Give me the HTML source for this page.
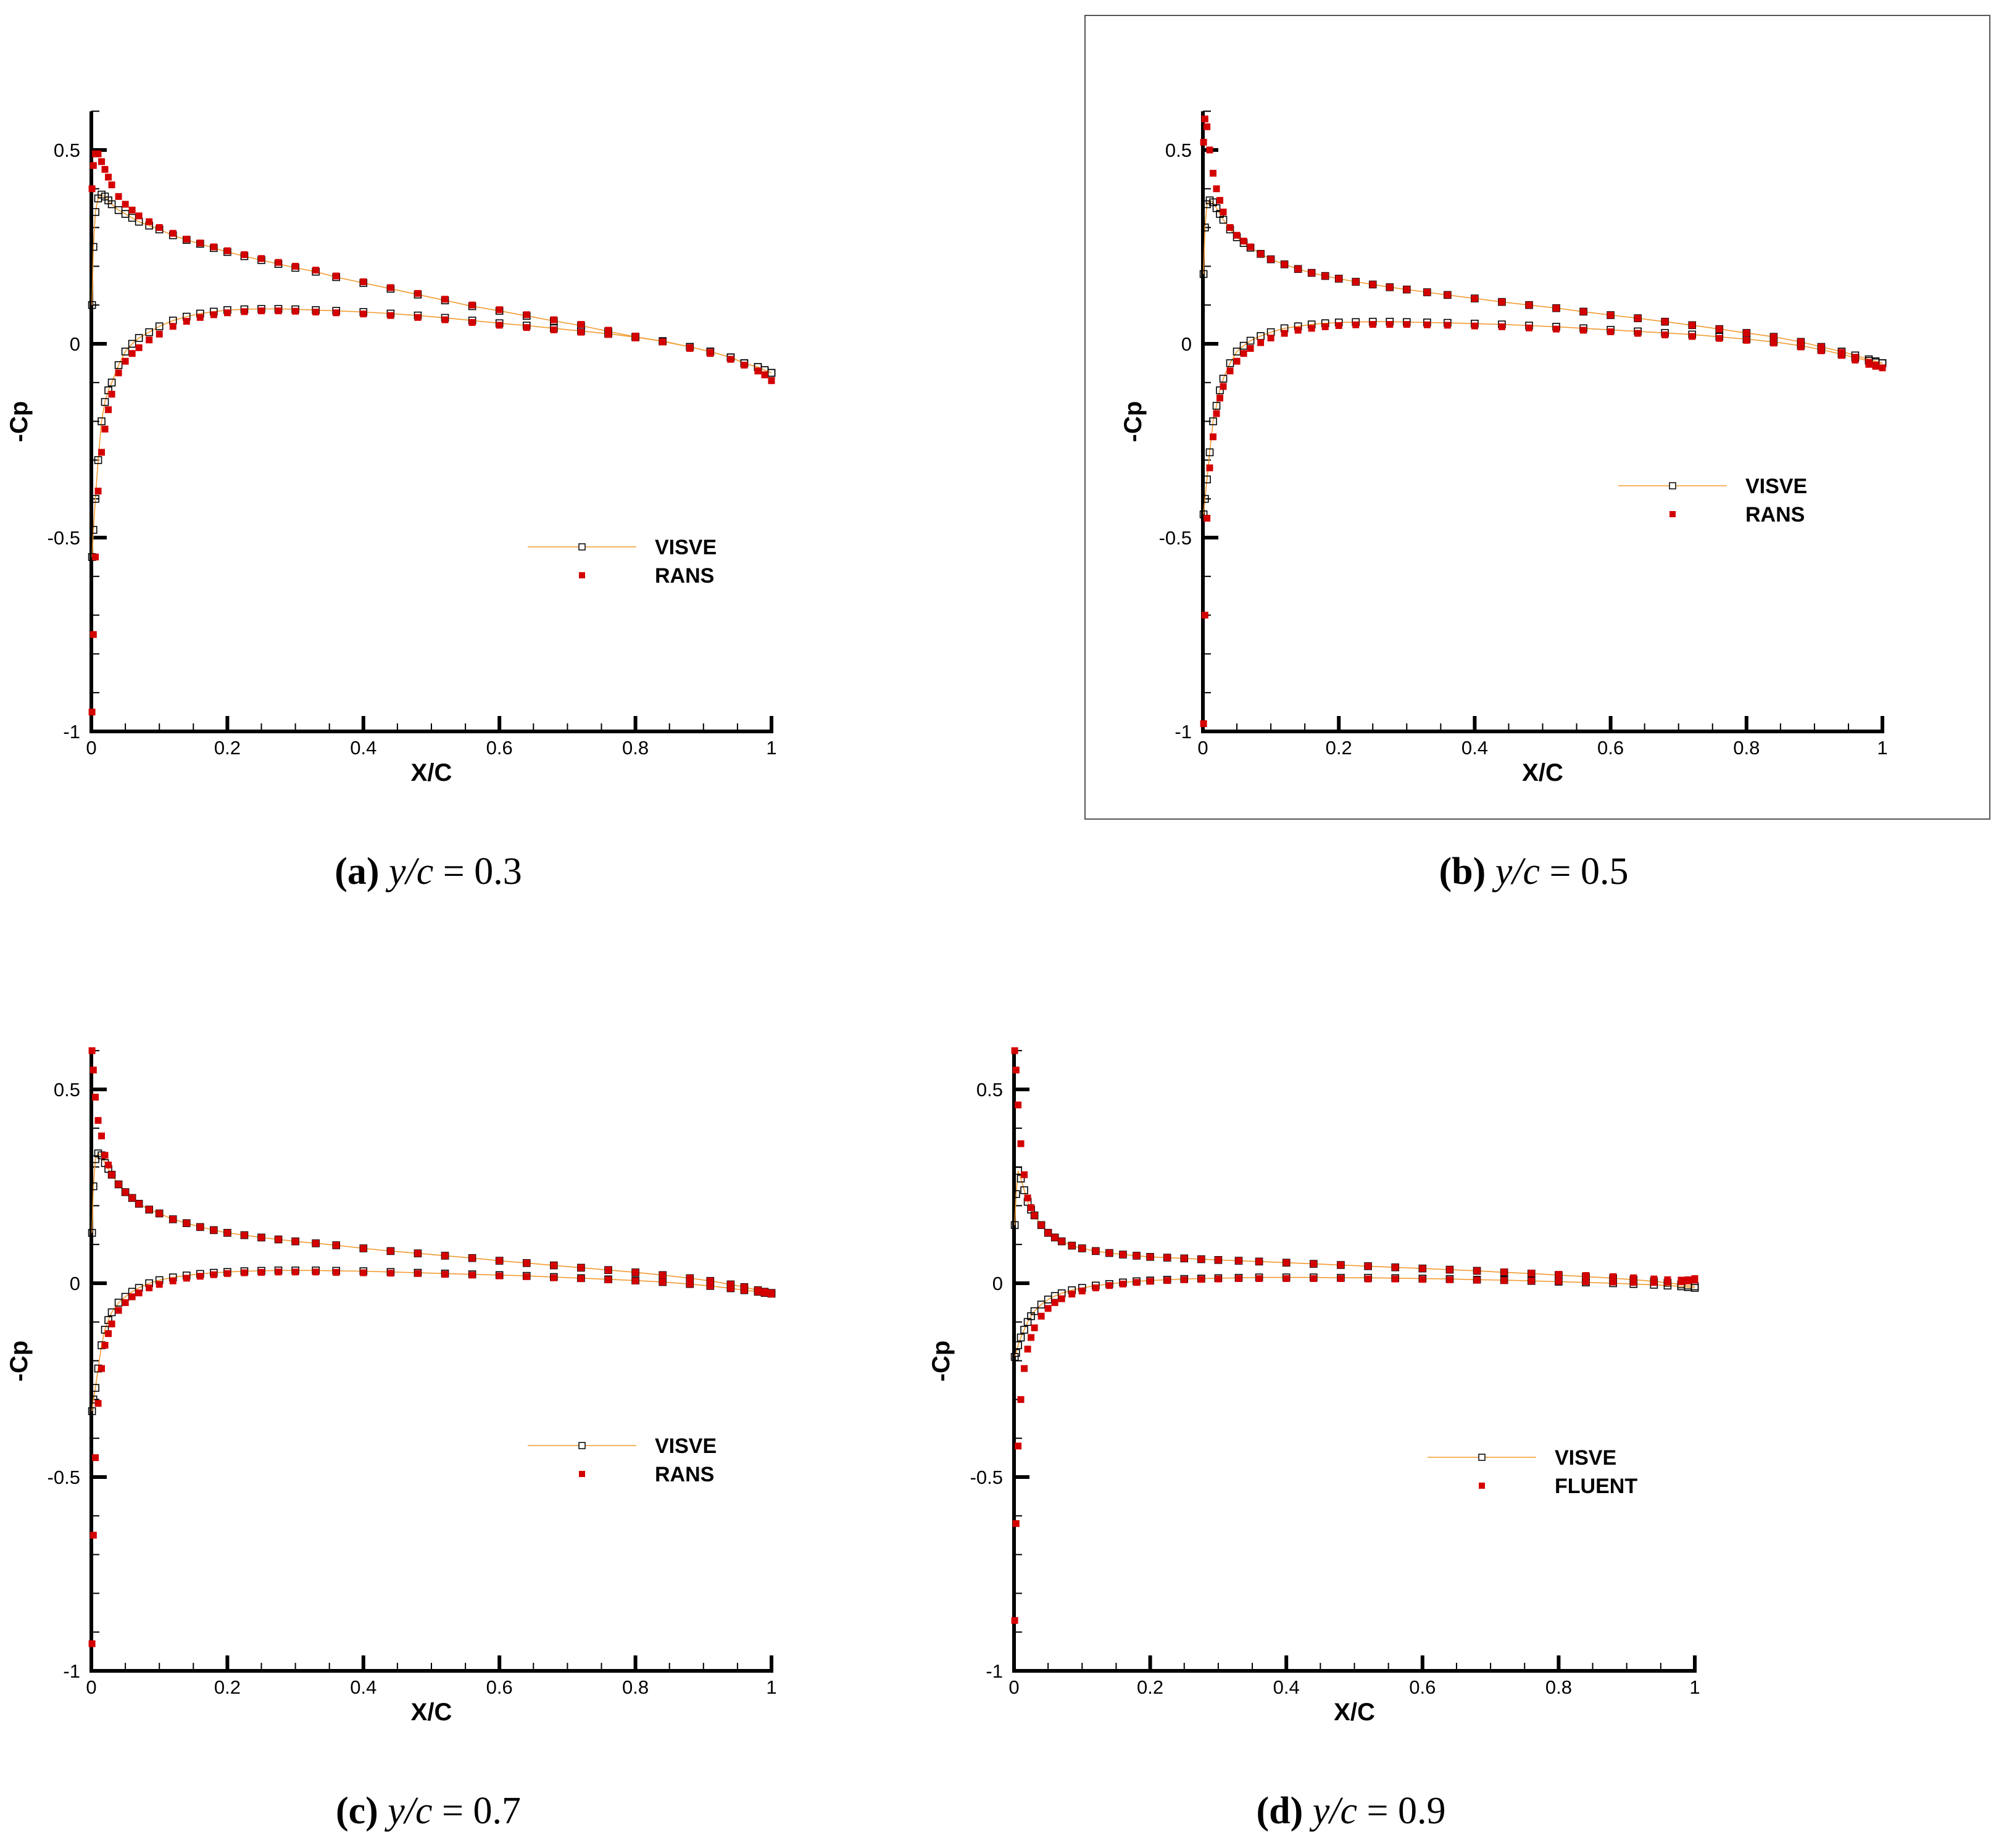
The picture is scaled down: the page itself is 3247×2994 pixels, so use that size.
<!DOCTYPE html>
<html><head><meta charset="utf-8">
<style>
html,body{margin:0;padding:0;background:#fff;}
svg{display:block;}
</style></head>
<body>
<svg id="fig" xmlns="http://www.w3.org/2000/svg" width="3247" height="2994" viewBox="0 0 3247 2994">
<rect x="0" y="0" width="3247" height="2994" fill="#fff"/>
<rect x="1758" y="25" width="1466" height="1302" fill="none" stroke="#555" stroke-width="2"/>
</svg>
<script>
// ---- data ----
const stations = [0.001,0.003,0.006,0.01,0.015,0.02,0.025,0.03,0.04,0.05,0.06,0.07,0.085,0.1,0.12,0.14,0.16,0.18,0.2,0.225,0.25,0.275,0.3,0.33,0.36,0.4,0.44,0.48,0.52,0.56,0.6,0.64,0.68,0.72,0.76,0.8,0.84,0.88,0.91,0.94,0.96,0.98,0.99,1];
const xTicks = [0,0.2,0.4,0.6,0.8,1];
const xTickLabels = ["0","0.2","0.4","0.6","0.8","1"];
const yTicks = [0.5,0,-0.5,-1];
const yTickLabels = ["0.5","0","-0.5","-1"];
const panelNames = ["a","b","c","d"];
const spanValues = ["0.3","0.5","0.7","0.9"];
const refNames = ["RANS","RANS","RANS","FLUENT"];

// panel a
const aVisveUpper = [0.10,0.25,0.34,0.375,0.385,0.38,0.37,0.36,0.345,0.335,0.325,0.315,0.305,0.295,0.28,0.268,0.258,0.247,0.237,0.226,0.216,0.206,0.196,0.186,0.172,0.157,0.142,0.127,0.112,0.097,0.085,0.072,0.059,0.047,0.032,0.018,0.006,-0.008,-0.02,-0.035,-0.05,-0.06,-0.068,-0.075];
const aRansUpper = [0.40,0.46,0.49,0.49,0.47,0.45,0.43,0.41,0.38,0.36,0.345,0.33,0.315,0.30,0.285,0.27,0.26,0.25,0.24,0.23,0.22,0.21,0.20,0.19,0.175,0.16,0.145,0.13,0.115,0.10,0.088,0.075,0.062,0.05,0.035,0.02,0.005,-0.012,-0.025,-0.04,-0.055,-0.07,-0.08,-0.095];
const aVisveLower = [-0.55,-0.48,-0.40,-0.30,-0.20,-0.15,-0.12,-0.10,-0.055,-0.02,0,0.015,0.03,0.045,0.06,0.07,0.078,0.083,0.087,0.089,0.09,0.09,0.089,0.087,0.085,0.082,0.078,0.073,0.067,0.06,0.053,0.047,0.04,0.033,0.026,0.017,0.007,-0.008,-0.02,-0.035,-0.05,-0.06,-0.068,-0.075];
const aRansLower = [-0.95,-0.75,-0.55,-0.38,-0.28,-0.22,-0.17,-0.13,-0.075,-0.045,-0.025,-0.01,0.01,0.025,0.045,0.058,0.068,0.075,0.08,0.083,0.085,0.085,0.084,0.082,0.08,0.077,0.073,0.068,0.062,0.055,0.048,0.042,0.036,0.03,0.024,0.015,0.005,-0.01,-0.022,-0.04,-0.055,-0.07,-0.08,-0.095];
// panel b
const bVisveUpper = [0.18,0.30,0.36,0.37,0.365,0.35,0.335,0.32,0.295,0.275,0.26,0.248,0.232,0.218,0.205,0.193,0.183,0.175,0.168,0.16,0.153,0.146,0.14,0.133,0.126,0.117,0.108,0.1,0.092,0.083,0.074,0.066,0.057,0.048,0.038,0.028,0.018,0.005,-0.008,-0.02,-0.03,-0.04,-0.045,-0.05];
const bRansUpper = [0.52,0.58,0.56,0.50,0.44,0.40,0.37,0.34,0.30,0.28,0.265,0.25,0.232,0.218,0.205,0.193,0.183,0.175,0.168,0.16,0.153,0.146,0.14,0.133,0.126,0.117,0.108,0.1,0.092,0.083,0.074,0.066,0.057,0.048,0.038,0.028,0.018,0.005,-0.008,-0.022,-0.035,-0.048,-0.055,-0.062];
const bVisveLower = [-0.44,-0.40,-0.35,-0.28,-0.20,-0.16,-0.12,-0.09,-0.05,-0.02,-0.005,0.008,0.02,0.03,0.04,0.045,0.05,0.053,0.055,0.056,0.057,0.057,0.056,0.055,0.054,0.052,0.05,0.047,0.044,0.04,0.036,0.032,0.028,0.024,0.018,0.012,0.005,-0.005,-0.015,-0.027,-0.036,-0.044,-0.048,-0.05];
const bRansLower = [-0.98,-0.70,-0.45,-0.32,-0.24,-0.18,-0.14,-0.11,-0.07,-0.045,-0.025,-0.012,0.003,0.015,0.027,0.035,0.04,0.044,0.047,0.049,0.05,0.05,0.05,0.049,0.048,0.046,0.044,0.041,0.038,0.035,0.031,0.027,0.023,0.019,0.014,0.009,0.002,-0.008,-0.018,-0.03,-0.042,-0.053,-0.058,-0.062];
// panel c
const cVisveUpper = [0.13,0.25,0.32,0.335,0.33,0.31,0.295,0.28,0.255,0.235,0.22,0.205,0.19,0.18,0.165,0.155,0.145,0.137,0.13,0.124,0.118,0.113,0.108,0.103,0.098,0.09,0.083,0.077,0.071,0.065,0.058,0.052,0.046,0.04,0.034,0.028,0.021,0.013,0.006,-0.003,-0.01,-0.018,-0.022,-0.025];
const cRansUpper = [0.60,0.55,0.48,0.42,0.38,0.33,0.305,0.28,0.255,0.235,0.22,0.205,0.19,0.18,0.165,0.155,0.145,0.137,0.13,0.124,0.118,0.113,0.108,0.103,0.098,0.09,0.083,0.077,0.071,0.065,0.058,0.052,0.046,0.04,0.034,0.028,0.021,0.013,0.006,-0.003,-0.01,-0.018,-0.022,-0.025];
const cVisveLower = [-0.33,-0.30,-0.27,-0.22,-0.16,-0.12,-0.095,-0.075,-0.05,-0.035,-0.022,-0.012,0,0.008,0.015,0.02,0.024,0.027,0.029,0.031,0.032,0.033,0.033,0.033,0.032,0.031,0.029,0.027,0.025,0.023,0.021,0.019,0.016,0.013,0.01,0.007,0.003,-0.002,-0.007,-0.013,-0.018,-0.022,-0.025,-0.027];
const cRansLower = [-0.93,-0.65,-0.45,-0.31,-0.22,-0.16,-0.13,-0.105,-0.07,-0.05,-0.035,-0.025,-0.012,-0.003,0.006,0.013,0.018,0.022,0.025,0.027,0.028,0.029,0.029,0.029,0.028,0.027,0.026,0.025,0.023,0.021,0.019,0.017,0.014,0.012,0.009,0.006,0.003,-0.002,-0.007,-0.013,-0.018,-0.022,-0.025,-0.028];
// panel d
const dVisveUpper = [0.15,0.23,0.29,0.27,0.24,0.21,0.19,0.175,0.15,0.13,0.118,0.108,0.097,0.09,0.083,0.078,0.074,0.071,0.068,0.066,0.064,0.062,0.06,0.058,0.056,0.053,0.05,0.047,0.044,0.041,0.038,0.035,0.032,0.028,0.025,0.021,0.017,0.013,0.009,0.005,0.001,-0.003,-0.006,-0.008];
const dRansUpper = [0.60,0.55,0.46,0.36,0.28,0.22,0.195,0.175,0.15,0.13,0.118,0.108,0.097,0.09,0.083,0.078,0.074,0.071,0.068,0.066,0.064,0.062,0.06,0.058,0.056,0.053,0.05,0.047,0.044,0.041,0.038,0.035,0.032,0.029,0.026,0.023,0.02,0.017,0.014,0.011,0.009,0.008,0.009,0.012];
const dVisveLower = [-0.19,-0.18,-0.16,-0.14,-0.12,-0.1,-0.085,-0.072,-0.055,-0.042,-0.033,-0.026,-0.018,-0.012,-0.006,-0.002,0.002,0.005,0.007,0.009,0.011,0.012,0.013,0.014,0.015,0.015,0.015,0.014,0.014,0.013,0.012,0.011,0.009,0.008,0.006,0.004,0.002,0,-0.002,-0.004,-0.006,-0.008,-0.01,-0.012];
const dRansLower = [-0.87,-0.62,-0.42,-0.3,-0.22,-0.17,-0.14,-0.115,-0.085,-0.065,-0.05,-0.04,-0.028,-0.02,-0.012,-0.006,-0.002,0.002,0.005,0.007,0.009,0.01,0.011,0.012,0.012,0.012,0.012,0.012,0.011,0.011,0.01,0.009,0.008,0.007,0.006,0.005,0.004,0.003,0.002,0.002,0.003,0.004,0.006,0.008];

const visveUpperSets = [aVisveUpper,bVisveUpper,cVisveUpper,dVisveUpper];
const ransUpperSets = [aRansUpper,bRansUpper,cRansUpper,dRansUpper];
const visveLowerSets = [aVisveLower,bVisveLower,cVisveLower,dVisveLower];
const ransLowerSets = [aRansLower,bRansLower,cRansLower,dRansLower];

// ---- layout ----
const layout = [
 {x0:148,x1:1250,y0:557,capX:694,capY:1432,legX:855,legY:886,ylabX:44},
 {x0:1949,x1:3050,y0:557,capX:2485,capY:1432,legX:2622,legY:787,ylabX:1849},
 {x0:148,x1:1250,y0:2079,capX:694,capY:2954,legX:855,legY:2342,ylabX:44},
 {x0:1643,x1:2746,y0:2079,capX:2189,capY:2954,legX:2313,legY:2361,ylabX:1538}
];
const YU = 628; // px per unit Cp
const MS = 11;  // marker size
const NS = "http://www.w3.org/2000/svg";
const svg = document.getElementById('fig');
function mk(tag, attrs, parent){
  const e = document.createElementNS(NS, tag);
  for (const k in attrs) e.setAttribute(k, attrs[k]);
  (parent||svg).appendChild(e);
  return e;
}
const ORANGE = "#f39a2e", RED = "#d40000";

layout.forEach((L, p) => {
  const sx = v => L.x0 + v*(L.x1-L.x0);
  const sy = v => L.y0 - v*YU;
  const g = mk('g', {});
  
  
  const yTop = sy(0.6), yBot = sy(-1);
  for (let i=1;i<20;i++){ if(i%4===0) continue; const x=sx(i*0.05);
    const t = mk('line',{x1:x,x2:x,y1:yBot,y2:yBot-13,stroke:'#000','stroke-width':2},g);
      }
  for (let i=-9;i<=5;i++){ if(i%5===0) continue; const y=sy(i*0.1);
    const t = mk('line',{x1:L.x0,x2:L.x0+13,y1:y,y2:y,stroke:'#000','stroke-width':2},g);
      }
  const ax = mk('line',{x1:L.x0,x2:L.x1+3,y1:yBot,y2:yBot,stroke:'#000','stroke-width':6},g);
   
  const ay = mk('line',{x1:L.x0,x2:L.x0,y1:yTop,y2:yBot+3,stroke:'#000','stroke-width':6},g);
   
  const topT = mk('line',{x1:L.x0,x2:L.x0+13,y1:yTop,y2:yTop,stroke:'#000','stroke-width':2},g);
   
  xTicks.forEach((v,i) => {
    const x = sx(v);
    const t = mk('line',{x1:x,x2:x,y1:yBot,y2:yBot-25,stroke:'#000','stroke-width':6},g);
     
    const lb = mk('text',{x:x,y:yBot+37,'font-family':'Liberation Sans, sans-serif','font-size':31,'text-anchor':'middle'},g);
    lb.textContent = xTickLabels[i];
     
  });
  yTicks.forEach((v,i) => {
    const y = sy(v);
    const t = mk('line',{x1:L.x0,x2:L.x0+25,y1:y,y2:y,stroke:'#000','stroke-width':6},g);
     
    const lb = mk('text',{x:L.x0-18,y:y+11,'font-family':'Liberation Sans, sans-serif','font-size':31,'text-anchor':'end'},g);
    lb.textContent = yTickLabels[i];
     
  });
  const xt = mk('text',{x:(L.x0+L.x1)/2,y:yBot+80,'font-family':'Liberation Sans, sans-serif','font-size':40,'font-weight':'bold','text-anchor':'middle'},g);
  xt.textContent = 'X/C';
   
  const yc = L.y0 + 126;
  const yt = mk('text',{x:L.ylabX,y:yc,'font-family':'Liberation Sans, sans-serif','font-size':40,'font-weight':'bold','text-anchor':'middle',transform:`rotate(-90 ${L.ylabX} ${yc})`},g);
  yt.textContent = '-Cp';
   

  const drawVisve = (vals, nm) => {
    const pts = stations.map((s,i)=> sx(s).toFixed(1)+','+sy(vals[i]).toFixed(1)).join(' ');
    const pl = mk('polyline',{points:pts,fill:'none',stroke:ORANGE,'stroke-width':1.6},g);
     
    stations.forEach((s,i)=>{
      const r = mk('rect',{x:sx(s)-MS/2,y:sy(vals[i])-MS/2,width:MS,height:MS,fill:'none',stroke:'#000','stroke-width':1.6},g);
       
    });
  };
  const drawRans = (vals, nm) => {
    stations.forEach((s,i)=>{
      const r = mk('rect',{x:sx(s)-MS/2,y:sy(vals[i])-MS/2,width:MS,height:MS,fill:RED},g);
       
    });
  };
  drawVisve(visveUpperSets[p],'visve-upper');
  drawVisve(visveLowerSets[p],'visve-lower');
  drawRans(ransUpperSets[p],'ref-upper');
  drawRans(ransLowerSets[p],'ref-lower');

  const lg = mk('g',{},g);
   
  const ll = mk('line',{x1:L.legX,x2:L.legX+176,y1:L.legY,y2:L.legY,stroke:ORANGE,'stroke-width':1.6},lg);
   
  const lm = mk('rect',{x:L.legX+88-5,y:L.legY-5,width:10,height:10,fill:'#fff',stroke:'#000','stroke-width':1.5},lg);
   
  const lt = mk('text',{x:L.legX+206,y:L.legY+12,'font-family':'Liberation Sans, sans-serif','font-size':34,'font-weight':'bold'},lg);
  lt.textContent = 'VISVE';
   
  const rm = mk('rect',{x:L.legX+88-5,y:L.legY+46-5,width:10,height:10,fill:RED},lg);
   
  const rt = mk('text',{x:L.legX+206,y:L.legY+58,'font-family':'Liberation Sans, sans-serif','font-size':34,'font-weight':'bold'},lg);
  rt.textContent = refNames[p];
   

  const cap = mk('text',{x:L.capX,y:L.capY,'font-family':'Liberation Serif, serif','font-size':62,'text-anchor':'middle'},g);
   
  const t1 = mk('tspan',{'font-weight':'bold'},cap); t1.textContent = '(' + panelNames[p] + ')';
  const t2 = mk('tspan',{'font-style':'italic'},cap); t2.textContent = ' y/c';
  const t3 = mk('tspan',{},cap); t3.textContent = ' = ' + spanValues[p];
});
</script>
</body></html>
